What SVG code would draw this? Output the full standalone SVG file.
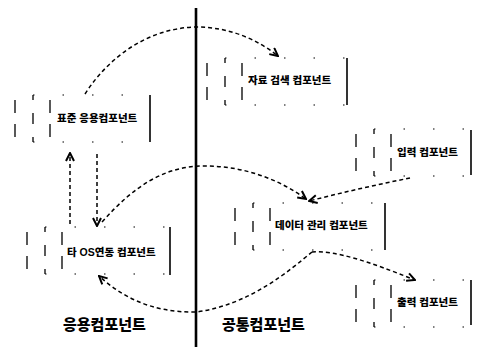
<svg xmlns="http://www.w3.org/2000/svg" xmlns:xlink="http://www.w3.org/1999/xlink" width="491" height="347" viewBox="0 0 491 347">
<style>
  .h { fill: none; stroke: #000; stroke-width: 1.2; stroke-dasharray: 1.5 28; }
  .v { fill: none; stroke: #000; stroke-width: 1.3; }
  .rb { fill: none; stroke: #000; stroke-width: 1.6; }
  .tabfill { fill: #fff; stroke: none; }
  .lbl { font-family: 'Liberation Sans', 'Noto Sans CJK KR', sans-serif; font-weight: 900; font-size: 10.5px; fill: #000; }
  .big { font-family: 'Liberation Sans', 'Noto Sans CJK KR', sans-serif; font-weight: 900; font-size: 15px; fill: #000; }
  .conn { fill: none; stroke: #000; stroke-width: 1.5; stroke-dasharray: 4 3; }
  .divider { stroke: #000; stroke-width: 2.6; }
</style>
<defs>
  <marker id="arr" viewBox="0 0 10 10" refX="9" refY="5" markerWidth="10" markerHeight="10" markerUnits="userSpaceOnUse" orient="auto">
    <path d="M1,1 L9,5 L1,9" fill="none" stroke="#000" stroke-width="2"/>
  </marker>
  <g id="left">
    <line class="v" x1="0" y1="0" x2="0" y2="47"/>
    <rect class="tabfill" x="-18" y="5" width="35" height="13"/>
    <rect class="tabfill" x="-18" y="29" width="35" height="13"/>
    <path class="v" d="M-18,5 V18 M17,5 V18 M-18,29 V42 M17,29 V42"/>
  </g>
</defs>
<rect width="491" height="347" fill="#fff"/>

<line class="divider" x1="196" y1="8" x2="196" y2="347"/>

<g id="node-standard">
  <path class="h" d="M33,95 H150 M33,142 H150"/>
  <use xlink:href="#left" href="#left" x="33" y="95"/>
  <line class="rb" x1="150" y1="95" x2="150" y2="142"/>
  <text class="lbl" x="57" y="122">표준 응용컴포넌트</text>
</g>

<g id="node-os">
  <path class="h" d="M45,227 H170 M45,274 H170"/>
  <use xlink:href="#left" href="#left" x="45" y="227"/>
  <line class="rb" x1="170" y1="227" x2="170" y2="275"/>
  <text class="lbl" x="67" y="256">타 OS연동 컴포넌트</text>
</g>

<g id="node-search">
  <path class="h" d="M225,58 H347 M225,105 H347"/>
  <use xlink:href="#left" href="#left" x="225" y="58"/>
  <line class="rb" x1="347" y1="58" x2="347" y2="105"/>
  <text class="lbl" x="248" y="84">자료 검색 컴포넌트</text>
</g>

<g id="node-input">
  <path class="h" d="M374,129 H471 M374,176 H471"/>
  <use xlink:href="#left" href="#left" x="374" y="129"/>
  <line class="rb" x1="471" y1="130" x2="471" y2="175"/>
  <text class="lbl" x="397" y="156">입력 컴포넌트</text>
</g>

<g id="node-data">
  <path class="h" d="M253,203 H385 M253,250 H385"/>
  <use xlink:href="#left" href="#left" x="253" y="203"/>
  <line class="rb" x1="385" y1="203" x2="385" y2="250"/>
  <text class="lbl" x="275" y="229">데이터 관리 컴포넌트</text>
</g>

<g id="node-output">
  <path class="h" d="M374,280 H471 M374,327 H471"/>
  <use xlink:href="#left" href="#left" x="374" y="280"/>
  <line class="rb" x1="471" y1="280" x2="471" y2="325"/>
  <text class="lbl" x="397" y="306">출력 컴포넌트</text>
</g>

<g id="connectors">
  <path class="conn" d="M70,224 L70,153" marker-end="url(#arr)"/>
  <path class="conn" d="M97,154 L97,226" marker-end="url(#arr)"/>
  <path class="conn" d="M85,94 C110,55 150,28 196,27 C230,27 258,40 278,56" marker-end="url(#arr)"/>
  <path class="conn" d="M410,178 Q360,188 309,201" marker-end="url(#arr)"/>
  <path class="conn" d="M102,222 C135,185 165,166 205,166 C245,166 280,180 306,199" marker-end="url(#arr)"/>
  <path class="conn" d="M312,252 C290,270 250,305 196,312 C150,313 120,295 99,276" marker-end="url(#arr)"/>
  <path class="conn" d="M312,252 C335,250 370,262 415,280" marker-end="url(#arr)"/>
</g>

<text class="big" x="63" y="330">응용컴포넌트</text>
<text class="big" x="222" y="330">공통컴포넌트</text>
</svg>
